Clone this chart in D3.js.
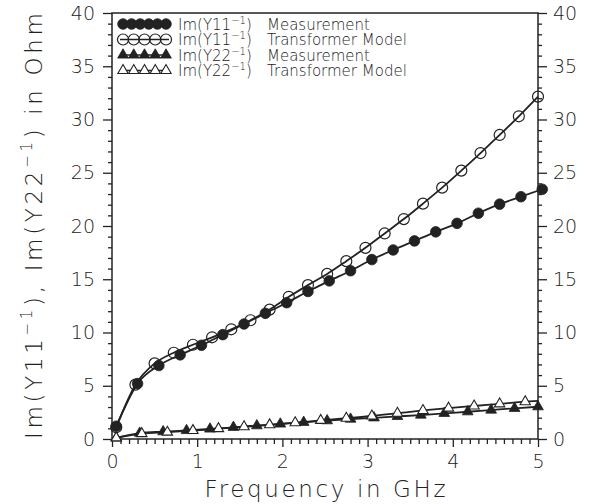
<!DOCTYPE html>
<html>
<head>
<meta charset="utf-8">
<script src="https://cdn.jsdelivr.net/npm/d3@7"></script>
<style>
  body { margin: 0; background: #fff; }
  svg text { font-family: "DejaVu Sans", "Liberation Sans", sans-serif; font-weight: 200; fill: #222; }
</style>
</head>
<body>
<svg id="chart" width="597" height="504"></svg>
<script>
// Im(Y11^-1) measurement
const y11MeasFreq = [0.05, 0.3, 0.55, 0.8, 1.05, 1.3, 1.55, 1.8, 2.05, 2.3, 2.55, 2.8, 3.05, 3.3, 3.55, 3.8, 4.05, 4.3, 4.55, 4.8, 5.05];
const y11MeasVal  = [1.2, 5.2, 6.9, 7.9, 8.8, 9.8, 10.8, 11.8, 12.8, 13.85, 14.85, 15.8, 16.85, 17.75, 18.6, 19.45, 20.25, 21.2, 22.05, 22.75, 23.45];

// Im(Y11^-1) transformer model
const y11ModelFreq = [0.05, 0.275, 0.5, 0.725, 0.95, 1.175, 1.4, 1.625, 1.85, 2.075, 2.3, 2.525, 2.75, 2.975, 3.2, 3.425, 3.65, 3.875, 4.1, 4.325, 4.55, 4.775, 5.0];
const y11ModelVal  = [1.1, 5.1, 7.1, 8.1, 8.85, 9.55, 10.3, 11.15, 12.15, 13.35, 14.45, 15.5, 16.7, 17.95, 19.3, 20.65, 22.1, 23.6, 25.2, 26.85, 28.55, 30.3, 32.15];

// Im(Y22^-1) measurement
const y22MeasFreq = [0.05, 0.325, 0.6, 0.875, 1.15, 1.425, 1.7, 1.975, 2.25, 2.525, 2.8, 3.075, 3.35, 3.625, 3.9, 4.175, 4.45, 4.725, 5.0];
const y22MeasVal  = [0.1, 0.55, 0.69, 0.8, 0.94, 1.1, 1.25, 1.41, 1.57, 1.72, 1.87, 1.99, 2.12, 2.25, 2.41, 2.56, 2.72, 2.88, 3.03];

// Im(Y22^-1) transformer model (the curve runs on to 5 GHz; symbols stop at 4.85 GHz)
const y22ModelFreq = [0.05, 0.35, 0.65, 0.95, 1.25, 1.55, 1.85, 2.15, 2.45, 2.75, 3.05, 3.35, 3.65, 3.95, 4.25, 4.55, 4.85, 5.0];
const y22ModelVal  = [0.1, 0.5, 0.64, 0.79, 0.97, 1.15, 1.33, 1.53, 1.75, 1.95, 2.16, 2.42, 2.68, 2.9, 3.1, 3.3, 3.5, 3.58];
const y22ModelSymbolCount = 17;

const xMajorTicks = [0, 1, 2, 3, 4, 5];
const yMajorTicks = [0, 5, 10, 15, 20, 25, 30, 35, 40];

const legendLabels = [
  { base: "Im(Y11", sup: "\u22121", tail: ")", what: "Measurement" },
  { base: "Im(Y11", sup: "\u22121", tail: ")", what: "Transformer Model" },
  { base: "Im(Y22", sup: "\u22121", tail: ")", what: "Measurement" },
  { base: "Im(Y22", sup: "\u22121", tail: ")", what: "Transformer Model" }
];

const ink = "#222";
const svg = d3.select("#chart");
const margin = { left: 112, right: 59, top: 13, bottom: 65 };
const W = 597, H = 504;

const x = d3.scaleLinear().domain([0, 5]).range([margin.left, W - margin.right]);
const y = d3.scaleLinear().domain([0, 40]).range([H - margin.bottom, margin.top]);

const xMinor = d3.range(0, 5.0001, 0.1).map(v => +v.toFixed(1)).filter(v => !xMajorTicks.includes(v));
const yMinor = d3.range(0, 41, 1).filter(v => !yMajorTicks.includes(v));

function styleAxis(g) {
  g.select(".domain").remove();
  g.selectAll(".tick line").attr("stroke", ink).attr("stroke-width", 1.3);
  g.selectAll(".tick text").style("font-size", "19px").attr("fill", ink);
}

// bottom axis
svg.append("g").attr("transform", `translate(0,${y(0)})`)
  .call(d3.axisBottom(x).tickValues(xMinor).tickSize(5).tickFormat(""))
  .call(styleAxis);
svg.append("g").attr("transform", `translate(0,${y(0)})`)
  .call(d3.axisBottom(x).tickValues(xMajorTicks).tickSize(8).tickPadding(8).tickFormat(d3.format("d")))
  .call(styleAxis);

// left axis
svg.append("g").attr("transform", `translate(${x(0)},0)`)
  .call(d3.axisLeft(y).tickValues(yMinor).tickSize(4).tickFormat(""))
  .call(styleAxis);
svg.append("g").attr("transform", `translate(${x(0)},0)`)
  .call(d3.axisLeft(y).tickValues(yMajorTicks).tickSize(9).tickPadding(8).tickFormat(d3.format("d")))
  .call(styleAxis);

// right axis
svg.append("g").attr("transform", `translate(${x(5)},0)`)
  .call(d3.axisRight(y).tickValues(yMinor).tickSize(4).tickFormat(""))
  .call(styleAxis);
svg.append("g").attr("transform", `translate(${x(5)},0)`)
  .call(d3.axisRight(y).tickValues(yMajorTicks).tickSize(9).tickPadding(6).tickFormat(d3.format("d")))
  .call(styleAxis);

// frame
svg.append("rect")
  .attr("x", x(0)).attr("y", y(40))
  .attr("width", x(5) - x(0)).attr("height", y(0) - y(40))
  .attr("fill", "none").attr("stroke", ink).attr("stroke-width", 1.5);

// axis titles
svg.append("text")
  .attr("x", (x(0) + x(5)) / 2).attr("y", 497)
  .attr("text-anchor", "middle")
  .style("font-size", "23px")
  .attr("textLength", 241).attr("lengthAdjust", "spacing")
  .text("Frequency in GHz");

const yTitle = svg.append("text")
  .attr("transform", `translate(42,${(y(0) + y(40)) / 2}) rotate(-90)`)
  .attr("text-anchor", "middle")
  .style("font-size", "23px")
  .attr("textLength", 426).attr("lengthAdjust", "spacing");
yTitle.append("tspan").text("Im(Y11");
yTitle.append("tspan").attr("dy", -10).style("font-size", "15px").text("\u22121");
yTitle.append("tspan").attr("dy", 10).text("), Im(Y22");
yTitle.append("tspan").attr("dy", -10).style("font-size", "15px").text("\u22121");
yTitle.append("tspan").attr("dy", 10).text(") in Ohm");

// series
const series = [
  { f: y11MeasFreq,  v: y11MeasVal,  shape: "circle",   filled: true,  n: y11MeasFreq.length },
  { f: y11ModelFreq, v: y11ModelVal, shape: "circle",   filled: false, n: y11ModelFreq.length },
  { f: y22MeasFreq,  v: y22MeasVal,  shape: "triangle", filled: true,  n: y22MeasFreq.length },
  { f: y22ModelFreq, v: y22ModelVal, shape: "triangle", filled: false, n: y22ModelSymbolCount }
];

const line = d3.line().x(d => x(d[0])).y(d => y(d[1])).curve(d3.curveMonotoneX);

function drawMarker(g, shape, filled, cx, cy) {
  if (shape === "circle") {
    g.append("circle").attr("cx", cx).attr("cy", cy)
      .attr("r", filled ? 5.3 : 5.5)
      .attr("fill", filled ? ink : "none")
      .attr("stroke", ink).attr("stroke-width", filled ? 0.8 : 1.2);
  } else {
    g.append("path")
      .attr("d", d3.symbol(d3.symbolTriangle, filled ? 50 : 46)())
      .attr("transform", `translate(${cx},${cy})`)
      .attr("fill", filled ? ink : "#fff")
      .attr("stroke", ink).attr("stroke-width", filled ? 0.8 : 1.1);
  }
}

series.forEach(s => {
  const pts = s.f.map((f, i) => [f, s.v[i]]);
  svg.append("path").datum(pts)
    .attr("d", line)
    .attr("fill", "none").attr("stroke", ink).attr("stroke-width", 1.8);
});
series.forEach(s => {
  const g = svg.append("g");
  for (let i = 0; i < s.n; i++) drawMarker(g, s.shape, s.filled, x(s.f[i]), y(s.v[i]));
});

// legend
const legendRows = [24, 39.5, 55, 70.5];
const legendCounts = [6, 5, 5, 5];
legendLabels.forEach((lab, i) => {
  const s = series[i];
  const cy = legendRows[i];
  const g = svg.append("g");
  const x0 = 123, x1 = 166;
  g.append("line").attr("x1", x0 - 3).attr("x2", x1 + 3).attr("y1", cy).attr("y2", cy)
    .attr("stroke", ink).attr("stroke-width", 1.5);
  const n = legendCounts[i];
  for (let k = 0; k < n; k++) {
    drawMarker(g, s.shape, s.filled, x0 + k * (x1 - x0) / (n - 1), cy);
  }
  const t = g.append("text").attr("x", 178).attr("y", cy + 5.5).style("font-size", "15px");
  t.append("tspan").text(lab.base);
  t.append("tspan").attr("dy", -6).style("font-size", "10px").text(lab.sup);
  t.append("tspan").attr("dy", 6).text(lab.tail);
  t.append("tspan").attr("x", 267).text(lab.what);
});
</script>
</body>
</html>
